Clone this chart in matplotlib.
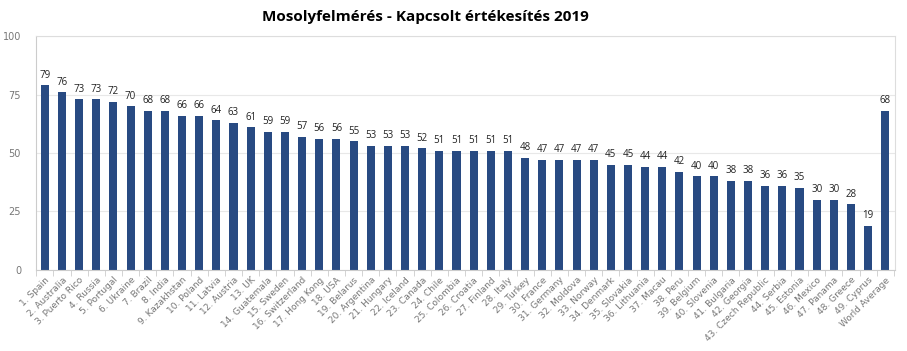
import numpy as np
import matplotlib
matplotlib.use('Agg')
from matplotlib import pyplot as plt

countries = ['1. Spain', '2. Australia', '3. Puerto Rico', '4. Russia', '5. Portugal',
             '6. Ukraine', '7. Brazil', '8. India', '9. Kazakhstan', '10. Poland',
             '11. Latvia', '12. Austria', '13. UK', '14. Guatemala', '15. Sweden',
             '16. Switzerland', '17. Hong Kong', '18. USA', '19. Belarus', '20. Argentina',
             '21. Hungary', '22. Iceland', '23. Canada', '24. Chile', '25. Colombia',
             '26. Croatia', '27. Finland', '28. Italy', '29. Turkey', '30. France',
             '31. Germany', '32. Moldova', '33. Norway', '34. Denmark', '35. Slovakia',
             '36. Lithuania', '37. Macau', '38. Peru', '39. Belgium', '40. Slovenia',
             '41. Bulgaria', '42. Georgia', '43. Czech Republic', '44. Serbia', '45. Estonia',
             '46. Mexico', '47. Panama', '48. Greece', '49. Cyprus', 'World Average']
scores = [79, 76, 73, 73, 72, 70, 68, 68, 66, 66,
          64, 63, 61, 59, 59, 57, 56, 56, 55, 53,
          53, 53, 52, 51, 51, 51, 51, 51, 48, 47,
          47, 47, 47, 45, 45, 44, 44, 42, 40, 40,
          38, 38, 36, 36, 35, 30, 30, 28, 19, 68]
yticks = [0, 25, 50, 75, 100]

fig = plt.figure(figsize=(9.07, 3.51), dpi=100)
ax = fig.add_axes([0.040, 0.231, 0.947, 0.666])

x = np.arange(len(countries))
bars = ax.bar(x, scores, width=0.47, color='#284a82', zorder=2)
for xi, v in zip(x, scores):
    ax.text(xi, v + 2, str(v), ha='center', va='bottom', fontsize=7,
            family='Open Sans', color='#222222')

ax.set_xlim(-0.5, len(countries) - 0.42)
ax.set_ylim(0, 100)
ax.set_yticks(yticks)
ax.set_yticklabels([str(t) for t in yticks], fontsize=7, color='#777777')
ax.tick_params(axis='y', length=0, pad=11)
ax.yaxis.grid(True, color='#e8e8e8', linewidth=0.8, zorder=0)

ax.set_xticks(x)
ax.set_xticklabels(countries, rotation=45, ha='right', rotation_mode='anchor',
                   fontsize=6.5, color='#777777')
ax.tick_params(axis='x', length=0, pad=4)
# Excel-style dividers between categories
ax.set_xticks(np.arange(len(countries) + 1) - 0.5, minor=True)
ax.tick_params(axis='x', which='minor', length=4, color='#cccccc')

for s in ['top', 'right']:
    ax.spines[s].set_color('#dddddd')
for s in ['left', 'bottom']:
    ax.spines[s].set_color('#cccccc')

fig.text(0.469, 0.952, 'Mosolyfelmérés - Kapcsolt értékesítés 2019', ha='center',
         va='center', fontsize=11, fontweight='bold', family='Open Sans')

fig.savefig('out.png', dpi=100)
